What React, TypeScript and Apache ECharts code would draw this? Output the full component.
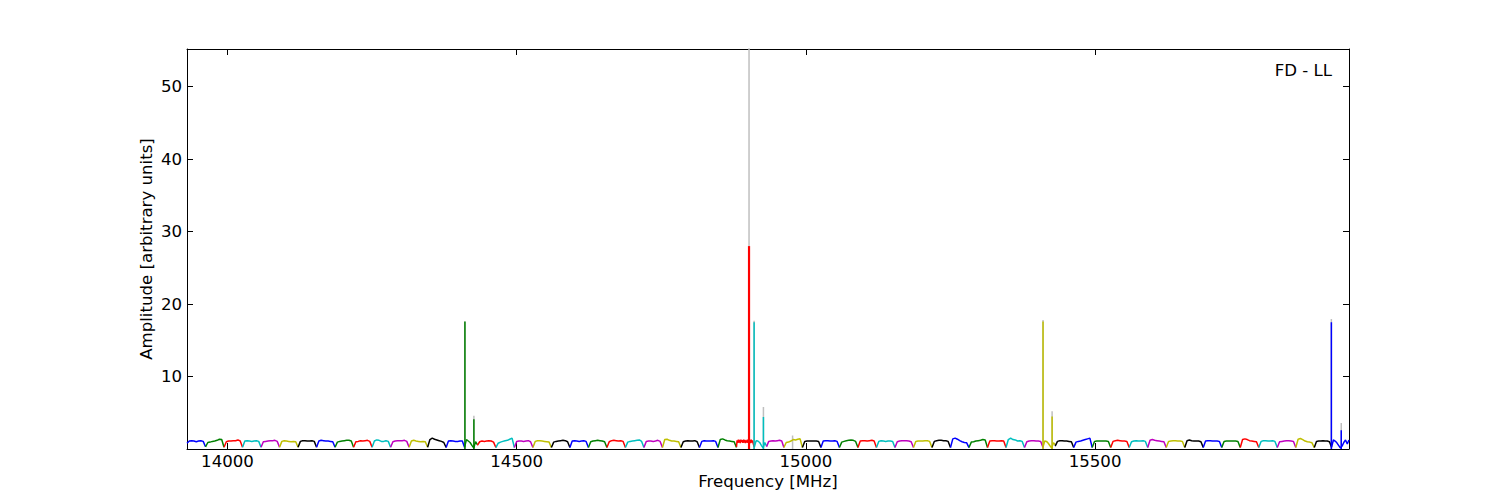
import React, { useEffect, useRef } from 'react';
import * as echarts from 'echarts';

const xMin = 13930;
const xMax = 15939;
const yMax = 55.2;
const xTicks = [14000, 14500, 15000, 15500];
const yTicks = [0, 10, 20, 30, 40, 50];
const yLabels = [10, 20, 30, 40, 50];
const colorCycle = ['#0000ff', '#008000', '#ff0000', '#00bfbf', '#bf00bf', '#bfbf00', '#000000'];
const greyColor = '#bfbfbf';

const windowStarts = [
  13930, 13962, 13994, 14026, 14058, 14090, 14122, 14154, 14186, 14218, 14250, 14282, 14314, 14346, 14378, 14410,
  14432, 14464, 14496, 14528, 14560, 14592, 14624, 14656, 14688, 14720, 14752, 14784, 14816, 14848, 14880,
  14911, 14932,
  14962, 14994, 15026, 15058, 15090, 15122, 15154, 15186, 15218, 15250, 15282, 15314, 15346, 15378, 15410,
  15431, 15463, 15495, 15527, 15559, 15591, 15623, 15655, 15687, 15719, 15751, 15783, 15815, 15847, 15879, 15909,
];

const windowAmps: number[][] = [
  [0.8, 1.1, 1.15, 1.1, 1.0, 1.1, 1.15, 1.05, 0.3],
  [0.3, 0.9, 0.95, 1.05, 1.1, 1.2, 1.35, 1.3, 0.25],
  [0.25, 1.0, 1.1, 1.1, 1.15, 1.15, 1.25, 1.1, 0.25],
  [0.25, 1.1, 1.15, 1.1, 1.05, 1.1, 1.15, 1.05, 0.25],
  [0.25, 1.0, 1.05, 1.1, 1.15, 1.15, 1.2, 1.05, 0.25],
  [0.25, 1.05, 1.15, 1.1, 1.05, 1.0, 1.05, 1.0, 0.25],
  [0.25, 1.05, 1.15, 1.15, 1.1, 1.1, 1.15, 1.05, 0.25],
  [0.25, 1.1, 1.2, 1.15, 1.1, 1.1, 1.05, 1.0, 0.25],
  [0.25, 0.95, 1.05, 1.1, 1.15, 1.2, 1.2, 1.1, 0.25],
  [0.25, 1.0, 1.05, 1.15, 1.1, 1.15, 1.2, 1.05, 0.25],
  [0.25, 1.1, 1.25, 1.2, 1.05, 1.05, 1.15, 1.05, 0.25],
  [0.25, 1.0, 1.1, 1.15, 1.15, 1.15, 1.2, 1.05, 0.25],
  [0.25, 1.1, 1.2, 1.1, 1.05, 1.0, 1.05, 1.0, 0.25],
  [0.25, 1.3, 1.5, 1.35, 1.25, 1.15, 1.05, 0.9, 0.2],
  [0.2, 1.1, 1.15, 1.1, 1.05, 1.05, 1.1, 1.1, 0.2],
  [0.3, 1.3, 1.1, 0.9, 0.5, 0.15, 1.0, 0.6],
  [0.5, 1.0, 1.1, 1.05, 1.1, 1.15, 1.1, 0.95, 0.2],
  [0.2, 0.8, 0.95, 1.05, 1.15, 1.2, 1.35, 1.5, 0.2],
  [0.2, 1.05, 1.1, 1.1, 1.05, 1.1, 1.15, 1.0, 0.2],
  [0.2, 1.05, 1.15, 1.15, 1.1, 1.05, 1.0, 0.95, 0.2],
  [0.2, 0.95, 1.05, 1.1, 1.15, 1.2, 1.15, 1.0, 0.2],
  [0.2, 1.1, 1.15, 1.1, 1.05, 1.1, 1.15, 1.05, 0.2],
  [0.2, 1.0, 1.1, 1.15, 1.2, 1.15, 1.1, 1.0, 0.2],
  [0.2, 1.0, 1.15, 1.2, 1.15, 1.1, 1.15, 1.05, 0.2],
  [0.2, 0.95, 1.05, 1.1, 1.15, 1.2, 1.25, 1.05, 0.2],
  [0.2, 1.05, 1.1, 1.1, 1.05, 1.1, 1.2, 1.05, 0.2],
  [0.2, 1.3, 1.35, 1.2, 1.1, 1.1, 1.05, 1.0, 0.2],
  [0.2, 1.0, 1.1, 1.15, 1.1, 1.1, 1.15, 1.0, 0.2],
  [0.2, 1.05, 1.15, 1.1, 1.1, 1.1, 1.15, 1.05, 0.2],
  [0.2, 1.3, 1.4, 1.25, 1.15, 1.1, 1.05, 1.0, 0.2],
  [0.3, 1.2, 0.85, 1.3, 0.9, 1.25, 0.8, 1.3, 0.95, 1.2, 0.85, 1.3, 0.9, 1.25, 0.8, 1.2, 0.9, 1.3, 0.85, 1.2, 0.9, 1.25, 0.8, 1.3, 0.9, 1.2, 0.8, 0.5, 0.3],
  [0.3, 1.15, 1.1, 0.9, 0.5, 0.15, 0.9, 0.4],
  [0.3, 1.05, 1.1, 1.15, 1.1, 1.15, 1.2, 1.1, 0.2],
  [0.2, 0.9, 0.95, 1.1, 1.3, 1.25, 1.35, 1.4, 0.2],
  [0.2, 1.05, 1.1, 1.1, 1.1, 1.1, 1.1, 1.05, 0.2],
  [0.2, 1.1, 1.15, 1.15, 1.1, 1.1, 1.15, 1.05, 0.2],
  [0.2, 0.95, 1.05, 1.15, 1.2, 1.25, 1.2, 1.05, 0.2],
  [0.2, 1.1, 1.15, 1.15, 1.1, 1.15, 1.2, 1.1, 0.2],
  [0.2, 1.05, 1.15, 1.1, 1.05, 1.1, 1.1, 1.05, 0.2],
  [0.2, 1.0, 1.1, 1.15, 1.15, 1.15, 1.1, 1.0, 0.2],
  [0.2, 1.05, 1.1, 1.1, 1.1, 1.15, 1.15, 1.05, 0.2],
  [0.2, 1.05, 1.15, 1.2, 1.2, 1.15, 1.15, 1.05, 0.2],
  [0.2, 1.4, 1.5, 1.35, 1.15, 1.0, 0.9, 0.85, 0.2],
  [0.2, 0.95, 1.0, 1.1, 1.15, 1.2, 1.3, 1.25, 0.2],
  [0.2, 1.1, 1.15, 1.15, 1.1, 1.1, 1.15, 1.1, 0.2],
  [0.2, 1.3, 1.5, 1.3, 1.25, 1.1, 1.15, 1.05, 0.2],
  [0.2, 1.0, 1.1, 1.15, 1.15, 1.1, 1.1, 1.05, 0.2],
  [0.3, 1.1, 1.05, 0.8, 0.45, 0.15, 0.85, 0.6],
  [0.4, 1.05, 1.15, 1.15, 1.1, 1.1, 1.05, 1.0, 0.2],
  [0.2, 0.95, 1.05, 1.1, 1.2, 1.3, 1.4, 1.5, 0.2],
  [0.2, 1.05, 1.1, 1.1, 1.1, 1.1, 1.1, 1.05, 0.2],
  [0.2, 1.05, 1.15, 1.2, 1.15, 1.1, 1.1, 1.05, 0.2],
  [0.2, 1.0, 1.1, 1.15, 1.1, 1.1, 1.15, 1.05, 0.2],
  [0.2, 1.2, 1.3, 1.2, 1.15, 1.1, 1.05, 1.0, 0.2],
  [0.2, 1.05, 1.1, 1.15, 1.15, 1.1, 1.1, 1.05, 0.2],
  [0.2, 1.15, 1.25, 1.15, 1.1, 1.1, 1.1, 1.0, 0.2],
  [0.2, 1.1, 1.15, 1.15, 1.1, 1.1, 1.1, 1.05, 0.2],
  [0.2, 1.05, 1.1, 1.1, 1.1, 1.1, 1.1, 1.05, 0.2],
  [0.2, 1.3, 1.4, 1.3, 1.15, 1.1, 1.05, 1.0, 0.2],
  [0.2, 1.05, 1.15, 1.15, 1.1, 1.1, 1.15, 1.05, 0.2],
  [0.2, 1.0, 1.05, 1.1, 1.15, 1.15, 1.1, 1.05, 0.2],
  [0.2, 1.35, 1.45, 1.3, 1.1, 1.0, 0.95, 0.85, 0.2],
  [0.2, 1.05, 1.1, 1.1, 1.15, 1.1, 1.1, 1.0, 0.2],
  [0.3, 1.25, 1.1, 0.85, 0.5, 0.15, 0.4, 0.9, 1.25, 0.7, 1.25],
];

const spikeFreqs = [14410.5, 14426, 14901.7, 14910.5, 14926.6, 15410, 15425.7, 15908.5, 15925.6];
const spikeHeights = [17.6, 4.1, 28.0, 17.5, 4.4, 17.6, 4.5, 17.5, 2.6];
const spikeColorIdx = [1, 1, 2, 3, 3, 5, 5, 0, 0];

const greyFreqs = [14410.5, 14426, 14901.7, 14910.5, 14926.6, 14977, 15410, 15425.7, 15908.5, 15925.6];
const greyHeights = [17.6, 4.6, 60, 17.7, 5.8, 1.85, 17.8, 5.2, 17.95, 3.6];

const FONT = 'DejaVu Sans';
const FS = 16.6;

export default function App() {
  const ref = useRef<HTMLDivElement>(null);

  useEffect(() => {
    if (!ref.current) return;
    const chart = echarts.init(ref.current, undefined, { renderer: 'svg' });

    const series: any[] = [];

    greyFreqs.forEach((f, i) => {
      series.push({
        type: 'line',
        data: [[f, 0], [f, greyHeights[i]]],
        symbol: 'none',
        lineStyle: { color: greyColor, width: 1.5 },
        z: 1,
        silent: true,
      });
    });

    windowStarts.forEach((start, w) => {
      const end = w + 1 < windowStarts.length ? windowStarts[w + 1] : xMax;
      const amps = windowAmps[w];
      const n = amps.length;
      const data = amps.map((a, i) => [start + ((end - start) * i) / (n - 1), a]);
      series.push({
        type: 'line',
        data,
        symbol: 'none',
        lineStyle: { color: colorCycle[w % 7], width: 1.5 },
        z: 2,
        silent: true,
      });
    });

    spikeFreqs.forEach((f, i) => {
      const c = colorCycle[spikeColorIdx[i]];
      series.push({
        type: 'line',
        data: [[f, 0], [f, spikeHeights[i]]],
        symbol: 'none',
        lineStyle: { color: c, width: spikeColorIdx[i] === 2 ? 2.2 : 1.5 },
        z: 3,
        silent: true,
      });
    });

    const labelStyle = { fontFamily: FONT, fontSize: FS, color: '#000' };
    const plain = (v: number) => String(v);

    chart.setOption({
      animation: false,
      backgroundColor: '#fff',
      grid: { left: 187, top: 49, width: 1162, height: 400, containLabel: false },
      xAxis: [
        {
          type: 'value',
          min: xMin,
          max: xMax,
          position: 'bottom',
          axisLine: { show: true, onZero: false, lineStyle: { color: '#000', width: 1 } },
          axisTick: { show: true, inside: true, length: 6, customValues: xTicks, lineStyle: { color: '#000' } },
          axisLabel: { show: true, customValues: xTicks, margin: 4, formatter: plain, ...labelStyle },
          splitLine: { show: false },
        },
        {
          type: 'value',
          min: xMin,
          max: xMax,
          position: 'top',
          axisLine: { show: true, onZero: false, lineStyle: { color: '#000', width: 1 } },
          axisTick: { show: true, inside: true, length: 6, customValues: xTicks, lineStyle: { color: '#000' } },
          axisLabel: { show: false },
          splitLine: { show: false },
        },
      ],
      yAxis: [
        {
          type: 'value',
          min: 0,
          max: yMax,
          position: 'left',
          axisLine: { show: true, onZero: false, lineStyle: { color: '#000', width: 1 } },
          axisTick: { show: true, inside: true, length: 6, customValues: yTicks, lineStyle: { color: '#000' } },
          axisLabel: { show: true, customValues: yLabels, margin: 5, formatter: plain, ...labelStyle },
          splitLine: { show: false },
        },
        {
          type: 'value',
          min: 0,
          max: yMax,
          position: 'right',
          axisLine: { show: true, onZero: false, lineStyle: { color: '#000', width: 1 } },
          axisTick: { show: true, inside: true, length: 6, customValues: yTicks, lineStyle: { color: '#000' } },
          axisLabel: { show: false },
          splitLine: { show: false },
        },
      ],
      graphic: [
        {
          type: 'text',
          x: 768,
          y: 481,
          style: { text: 'Frequency [MHz]', font: `${FS}px "${FONT}"`, fill: '#000', textAlign: 'center', textVerticalAlign: 'middle' },
        },
        {
          type: 'text',
          x: 146,
          y: 249,
          rotation: Math.PI / 2,
          style: { text: 'Amplitude [arbitrary units]', font: `${FS}px "${FONT}"`, fill: '#000', textAlign: 'center', textVerticalAlign: 'middle' },
        },
        {
          type: 'text',
          x: 1332,
          y: 70,
          style: { text: 'FD - LL', font: `${FS}px "${FONT}"`, fill: '#000', textAlign: 'right', textVerticalAlign: 'middle' },
        },
      ],
      series,
    });

    return () => chart.dispose();
  }, []);

  return <div ref={ref} style={{ position: 'absolute', left: 0, top: 0, width: 1500, height: 500 }} />;
}
